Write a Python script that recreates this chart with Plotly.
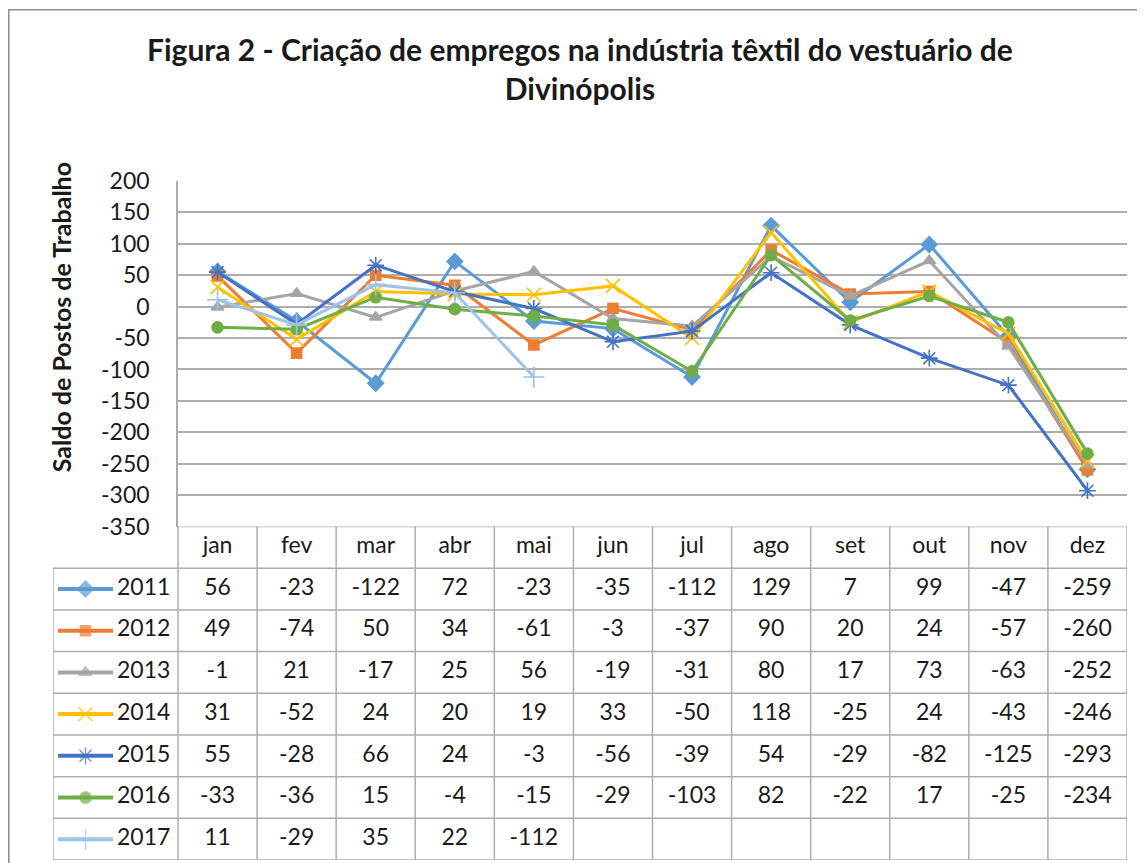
import plotly.graph_objects as go

# ---------------- data ----------------
months = ["jan", "fev", "mar", "abr", "mai", "jun", "jul", "ago", "set", "out", "nov", "dez"]
years = ["2011", "2012", "2013", "2014", "2015", "2016", "2017"]
v2011 = [56, -23, -122, 72, -23, -35, -112, 129, 7, 99, -47, -259]
v2012 = [49, -74, 50, 34, -61, -3, -37, 90, 20, 24, -57, -260]
v2013 = [-1, 21, -17, 25, 56, -19, -31, 80, 17, 73, -63, -252]
v2014 = [31, -52, 24, 20, 19, 33, -50, 118, -25, 24, -43, -246]
v2015 = [55, -28, 66, 24, -3, -56, -39, 54, -29, -82, -125, -293]
v2016 = [-33, -36, 15, -4, -15, -29, -103, 82, -22, 17, -25, -234]
v2017 = [11, -29, 35, 22, -112]
series = [v2011, v2012, v2013, v2014, v2015, v2016, v2017]
yticks = list(range(-350, 201, 50))
yticklabels = [str(v) for v in yticks]

title_text = "Figura 2 - Criação de empregos na indústria têxtil do vestuário de<br>Divinópolis"
ytitle = "Saldo de Postos de Trabalho"

# ---------------- styles ----------------
colors = ["#5B9BD5", "#ED7D31", "#A5A5A5", "#FFC000", "#4472C4", "#70AD47", "#9DC3E6"]
symbols = ["diamond", "square", "triangle-up", "x-thin-open", "asterisk-open", "circle", "cross-thin-open"]
msizes = [12, 10, 11, 14, 14, 11, 15]
FONT = "Lato, 'Open Sans', sans-serif"
TXT = "#1a1a1a"
GRID = "#ADADAD"

OFF = 8  # browser body margin around the figure


def vy(y):
    # target screen y -> page y (compensates vertical fit of the capture)
    return (y - 2.6) / 0.98


W, H = 1145 - 2 * OFF, 872
page_right = 1127
page_bottom = vy(858)
plot_left = 178
plot_top, plot_bottom = vy(180), vy(525)
table_left = 53
L = table_left - OFF
R = W - (page_right - OFF)
T = plot_top - OFF
B = H - (page_bottom - OFF)
pw, ph = W - L - R, H - T - B


def px_x(p):
    return (p - OFF - L) / pw


def px_y(p):
    return (H - B - (p - OFF)) / ph


x0dom = px_x(plot_left)
ysplit = px_y(plot_bottom)
ncol = len(months)
colw = (page_right - plot_left) / ncol
legcol = (plot_left - table_left) / colw
xleft = -0.5 - legcol
nrows = len(years) + 1
xs = list(range(ncol))

fig = go.Figure()

# lines
for yr, vals, c, s, ms in zip(years, series, colors, symbols, msizes):
    fig.add_trace(go.Scatter(
        x=xs[:len(vals)], y=vals, mode="lines+markers", name=yr,
        line=dict(color=c, width=3),
        marker=dict(symbol=s, size=ms, color=c, line=dict(color=c, width=1.6)),
        xaxis="x", yaxis="y", showlegend=False, cliponaxis=False,
    ))

# table: header
fig.add_trace(go.Scatter(
    x=xs, y=[0.5] * ncol, text=months, mode="text",
    textfont=dict(family=FONT, size=23, color=TXT),
    xaxis="x2", yaxis="y2", showlegend=False, hoverinfo="skip",
))

# legend keys + year labels + values
kx0 = xleft + 5 / colw
kx1 = xleft + 60 / colw
for i, (yr, vals, c, s, ms) in enumerate(zip(years, series, colors, symbols, msizes)):
    row = i + 1.5
    fig.add_trace(go.Scatter(
        x=[kx0, (kx0 + kx1) / 2, kx1], y=[row] * 3, mode="lines+markers",
        line=dict(color=c, width=4),
        marker=dict(symbol=s, size=[0, ms, 0], color=c, line=dict(color=c, width=1.6)),
        xaxis="x2", yaxis="y2", showlegend=False, hoverinfo="skip", cliponaxis=False,
    ))
    fig.add_trace(go.Scatter(
        x=[xleft + 64 / colw], y=[row], text=[yr], mode="text", textposition="middle right",
        textfont=dict(family=FONT, size=23, color=TXT),
        xaxis="x2", yaxis="y2", showlegend=False, hoverinfo="skip", cliponaxis=False,
    ))
    fig.add_trace(go.Scatter(
        x=xs[:len(vals)], y=[row] * len(vals), text=[str(v) for v in vals], mode="text",
        textfont=dict(family=FONT, size=23, color=TXT),
        xaxis="x2", yaxis="y2", showlegend=False, hoverinfo="skip",
    ))

shapes = []
lw = dict(color=GRID, width=1.5)
shapes.append(dict(type="line", xref="x2", yref="y2", x0=-0.5, x1=ncol - 0.5, y0=0, y1=0, line=lw))
for r in range(1, nrows + 1):
    shapes.append(dict(type="line", xref="x2", yref="y2", x0=xleft, x1=ncol - 0.5, y0=r, y1=r, line=lw))
for cidx in range(ncol + 1):
    shapes.append(dict(type="line", xref="x2", yref="y2", x0=cidx - 0.5, x1=cidx - 0.5, y0=0, y1=nrows, line=lw))
shapes.append(dict(type="line", xref="x2", yref="y2", x0=xleft, x1=xleft, y0=1, y1=nrows, line=lw))
# outer chart border
shapes.append(dict(type="rect", xref="paper", yref="paper",
                   x0=px_x(OFF + 0.8), x1=px_x(1170),
                   y0=px_y(950), y1=px_y(vy(9)),
                   line=dict(color="#8C8C8C", width=1.5)))

fig.update_layout(
    width=W, height=H,
    margin=dict(l=L, r=R, t=T, b=B),
    paper_bgcolor="white", plot_bgcolor="white",
    font=dict(family=FONT, color=TXT),
    shapes=shapes,
    xaxis=dict(domain=[x0dom, 1], range=[-0.5, ncol - 0.5], anchor="y",
               showticklabels=False, showgrid=False, zeroline=False, showline=False, ticks=""),
    yaxis=dict(domain=[ysplit, 1], range=[-350, 200], anchor="x",
               tickvals=yticks, ticktext=yticklabels,
               showgrid=True, gridcolor=GRID, gridwidth=1.5,
               zeroline=False, showline=True, linecolor=GRID, linewidth=1.5,
               ticks="", ticklabelstandoff=22,
               tickfont=dict(family=FONT, size=23, color=TXT)),
    xaxis2=dict(domain=[0, 1], range=[xleft, ncol - 0.5], anchor="y2", visible=False),
    yaxis2=dict(domain=[0, ysplit], range=[nrows, 0], anchor="x2", visible=False),
    annotations=[
        dict(text="<b>" + title_text.replace("<br>", "</b><br><b>") + "</b>",
             xref="paper", yref="paper", x=px_x(580), y=px_y(vy(68)),
             xanchor="center", yanchor="middle", showarrow=False,
             font=dict(family=FONT, size=30, color=TXT)),
        dict(text="<b>" + ytitle + "</b>", textangle=-90,
             xref="paper", yref="paper", x=px_x(61), y=px_y(vy(316)),
             xanchor="center", yanchor="middle", showarrow=False,
             font=dict(family=FONT, size=25, color=TXT)),
    ],
)

fig.write_html("out.html")
